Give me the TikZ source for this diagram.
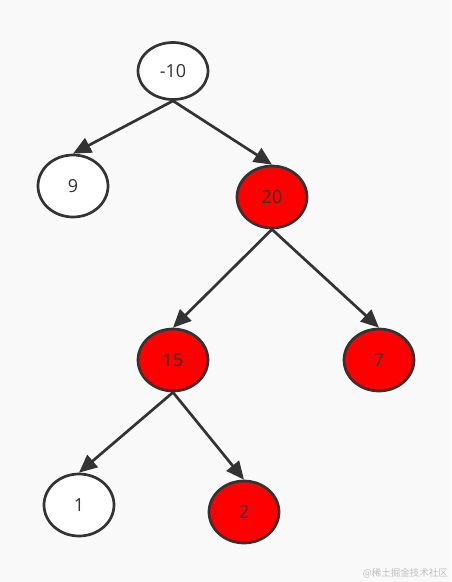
\documentclass[tikz,border=0pt]{standalone}
\usepackage{fontspec}
\setmainfont{Open Sans}
\newfontfamily\cjk{Noto Sans CJK SC}
\usetikzlibrary{shapes.geometric,arrows.meta}
\definecolor{bg}{HTML}{F9F9F9}
\definecolor{ink}{HTML}{333333}
\definecolor{rb}{HTML}{FF0000}
\begin{document}
\begin{tikzpicture}[x=1pt,y=-1pt,
  treenode/.style={ellipse,draw=ink,line width=2.7pt,minimum width=70pt,minimum height=62pt,inner sep=0pt,text=ink,font=\fontsize{18}{18}\selectfont},
  blacknode/.style={treenode,fill=white},
  rednode/.style={treenode,fill=rb},
  edge/.style={draw=ink,line width=2.7pt,-{Triangle[length=18pt,width=16pt]}}]
\fill[bg] (0,0) rectangle (451,582);
\useasboundingbox (0,0) rectangle (451,582);
\node[blacknode,minimum height=57pt] (n10) at (173,71) {-10};
\node[blacknode] (n9) at (73,186) {9};
\node[rednode] (n20) at (272,197) {20};
\node[rednode] (n15) at (173,360) {15};
\node[rednode] (n7) at (379,360) {7};
\node[blacknode] (n1) at (79,505) {1};
\node[rednode] (n2) at (244,512) {2};
\draw[edge] (n10.south) -- (n9.north);
\draw[edge] (n10.south) -- (n20.north);
\draw[edge] (n20.south) -- (n15.north);
\draw[edge] (n20.south) -- (n7.north);
\draw[edge] (n15.south) -- (n1.north);
\draw[edge] (n15.south) -- (n2.north);
\node[anchor=east,text=black!25,font=\cjk\fontsize{9.5}{10}\selectfont,inner sep=0pt] (wm) at (448,573) {@稀土掘金技术社区};
\end{tikzpicture}
\end{document}
